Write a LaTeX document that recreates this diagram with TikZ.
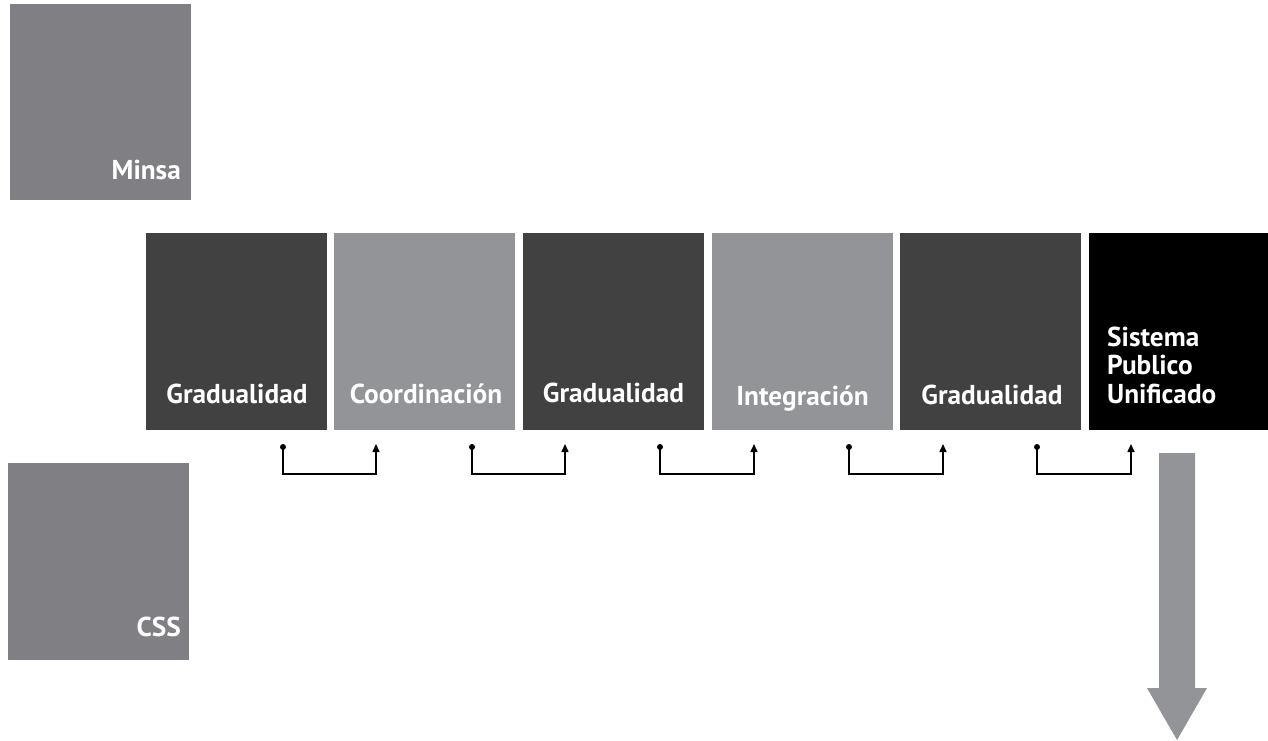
\documentclass[tikz,border=0pt]{standalone}
\usepackage{fontspec}
\setmainfont{PT Sans}
\usetikzlibrary{arrows.meta}
\definecolor{midgray}{HTML}{808084}
\definecolor{darkbox}{HTML}{414141}
\definecolor{lightbox}{HTML}{939498}
\begin{document}
\begin{tikzpicture}[x=1pt,y=-1pt,
  box/.style={draw=none,inner sep=0pt,outer sep=0pt,minimum width=181pt,minimum height=197pt,anchor=north west},
  lbl/.style={text=white,font=\fontsize{27.3}{29}\selectfont\bfseries,inner sep=0pt,anchor=base},
  link/.style={line width=1.5pt,line join=miter,-{Triangle[length=8pt,width=7pt]}},
  dotmark/.style={fill=black}
]
\useasboundingbox (0,0) rectangle (1268,741);

% side boxes
\node[box,fill=midgray,minimum height=196pt] (minsa) at (10,4) {};
\node[lbl,anchor=base east] (tminsa) at (181,179) {Minsa};
\node[box,fill=midgray] (css) at (8,463) {};
\node[lbl,anchor=base east] (tcss) at (181,636) {CSS};

% row boxes
\node[box,fill=darkbox] (b1) at (146,233) {};
\node[box,fill=lightbox] (b2) at (334,233) {};
\node[box,fill=darkbox] (b3) at (523,233) {};
\node[box,fill=lightbox] (b4) at (712,233) {};
\node[box,fill=darkbox] (b5) at (900,233) {};
\node[box,fill=black,minimum width=179pt] (b6) at (1089,233) {};

\node[lbl] (t1) at (237,403) {Gradualidad};
\node[lbl] (t2) at (426,403) {Coordinación};
\node[lbl] (t3) at (613.5,402) {Gradualidad};
\node[lbl] (t4) at (802.5,405) {Integración};
\node[lbl] (t5) at (992,404) {Gradualidad};
\node[lbl,anchor=base west] (t6a) at (1107,346) {Sistema};
\node[lbl,anchor=base west] (t6b) at (1107,374.5) {Publico};
\node[lbl,anchor=base west] (t6c) at (1107,403) {Unificado};

% connectors
\foreach \i/\dx/\ax in {1/283/376, 2/472/565, 3/660/754, 4/849/943, 5/1037/1131}{
  \coordinate (d\i) at (\dx,447);
  \coordinate (a\i) at (\ax,444);
  \draw[link] (d\i) -- ++(0,27) -| (a\i);
  \fill[dotmark] (d\i) circle (3pt);
}

% big arrow
\fill[lightbox] (1159,453) -- (1195,453) -- (1195,688) -- (1207,688) -- (1177,740)
  -- (1147,688) -- (1159,688) -- cycle;
\end{tikzpicture}
\end{document}
